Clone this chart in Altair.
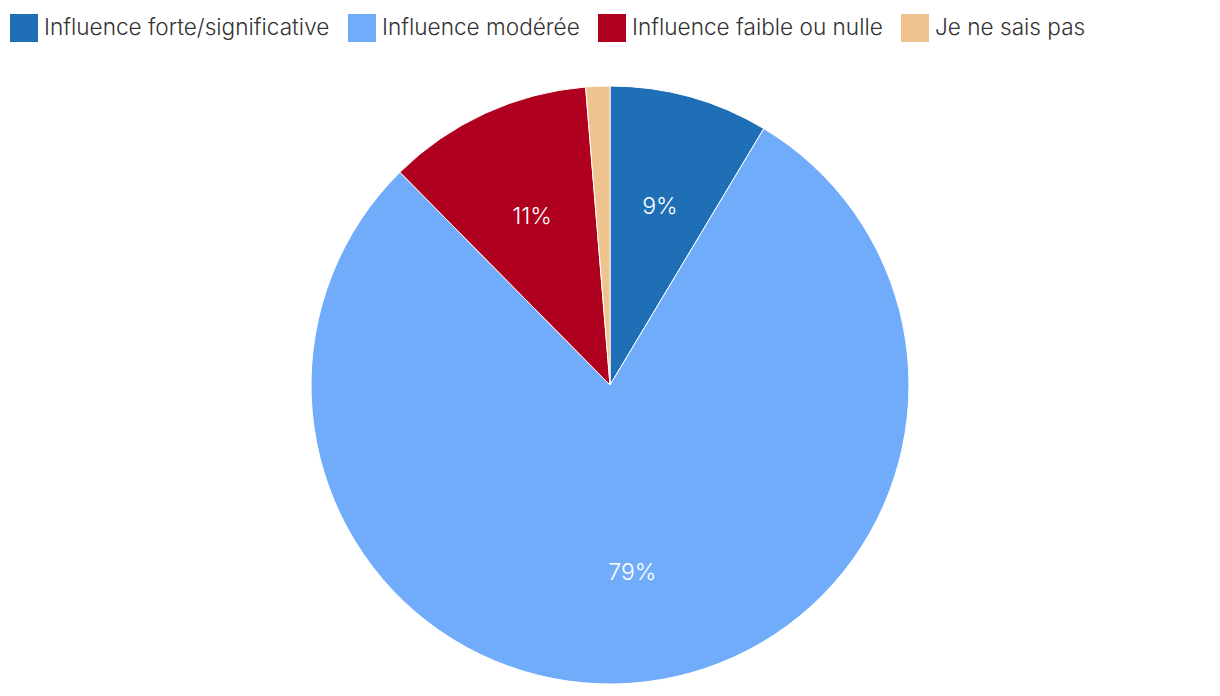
import altair as alt
import pandas as pd

categories = ["Influence forte/significative", "Influence modérée", "Influence faible ou nulle", "Je ne sais pas"]
values = [8.6, 79.0, 11.1, 1.3]
labels = ["9%", "79%", "11%", ""]
colors = ["#1f6fb7", "#71acfb", "#b0001f", "#efc38e"]

df = pd.DataFrame({
    "cat": categories,
    "val": values,
    "lab": labels,
    "idx": list(range(len(categories))),
})

base = alt.Chart(df).encode(
    theta=alt.Theta("val:Q", stack=True),
    order=alt.Order("idx:Q"),
)

pie = base.mark_arc(outerRadius=299, stroke="white", strokeWidth=1).encode(
    x=alt.value(602),
    y=alt.value(377),
    color=alt.Color(
        "cat:N",
        sort=categories,
        scale=alt.Scale(domain=categories, range=colors),
        legend=alt.Legend(
            title=None,
            orient="none",
            legendX=2,
            legendY=6,
            direction="horizontal",
            columns=4,
            symbolType="square",
            symbolSize=784,
            symbolStrokeWidth=0,
            labelFontSize=22.6,
            labelFont="Inter",
            labelFontWeight=300,
            labelColor="#333333",
            labelOffset=6,
            columnPadding=18,
            labelLimit=400,
        ),
    ),
)

text = base.mark_text(
    radius=187, fontSize=23, font="Inter", fontWeight=300, color="white", dy=2
).encode(
    x=alt.value(602),
    y=alt.value(377),
    text="lab:N",
)

chart = alt.layer(pie, text).properties(
    width=1204,
    height=680,
    autosize=alt.AutoSizeParams(type="none"),
    padding=0,
).configure_view(stroke=None)

chart.save("out.html", embed_options={"renderer": "svg", "actions": False})
